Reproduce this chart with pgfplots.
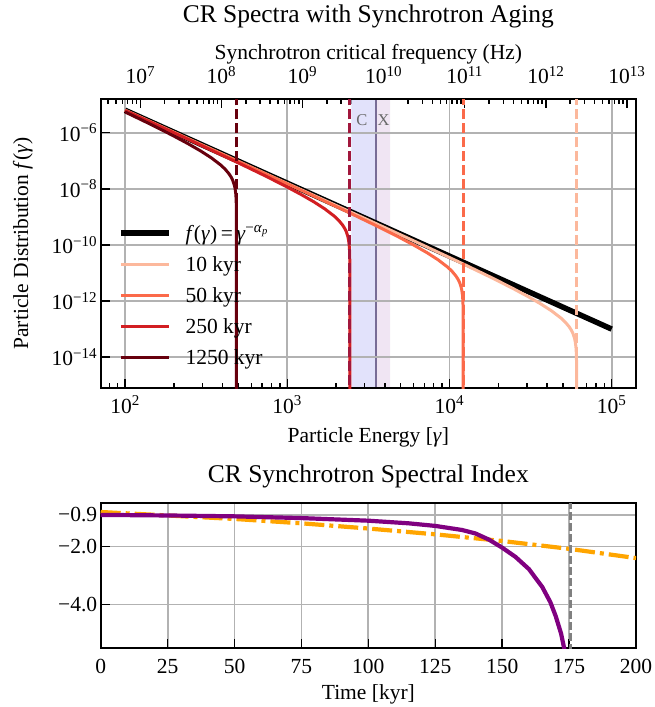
\documentclass[border=0pt]{standalone}
\usepackage{fontspec}
\setmainfont{Liberation Serif}
\usepackage{pgfplots}
\pgfplotsset{compat=1.18}
\definecolor{c10}{RGB}{252,184,156}
\definecolor{c50}{RGB}{251,106,74}
\definecolor{c250}{RGB}{210,30,34}
\definecolor{c1250}{RGB}{103,0,13}
\definecolor{gridc}{RGB}{178,178,178}
\definecolor{bandC}{RGB}{226,226,251}
\definecolor{bandX}{RGB}{240,229,243}
\definecolor{bandline}{RGB}{120,108,150}
\definecolor{labgray}{RGB}{105,105,105}
\definecolor{purp}{RGB}{128,0,128}
\definecolor{orng}{RGB}{255,165,0}
\newcommand\basefont{\fontsize{21.5}{25}\selectfont}
\newcommand\titlefont{\fontsize{25.5}{30}\selectfont}
\pgfplotsset{
  every axis/.append style={
    scale only axis, width=535.3pt,
    tick align=inside,
    major tick length=9.5pt, minor tick length=5pt,
    every tick/.append style={black, line width=1.5pt},
    axis line style={line width=2pt},
    tick label style={font=\basefont},
    label style={font=\basefont},
    title style={font=\titlefont},
  },
}
\begin{document}
\begin{tikzpicture}
\useasboundingbox (-100.7pt,-319pt) rectangle (553.3pt,388pt);
% ---------- frequency (twin) axis ----------
\begin{axis}[
  height=289pt,
  xmode=log, xmin=3.251e6, xmax=1.294e13,
  ymin=0, ymax=1,
  hide y axis,
  xtick pos=right, xticklabel pos=right,
  xtick={1e7,1e8,1e9,1e10,1e11,1e12,1e13},
  xticklabels={10\textsuperscript{7},10\textsuperscript{8},10\textsuperscript{9},10\textsuperscript{10},10\textsuperscript{11},10\textsuperscript{12},10\textsuperscript{13}},
  minor xtick={4e6,5e6,6e6,7e6,8e6,9e6,2e7,3e7,4e7,5e7,6e7,7e7,8e7,9e7,2e8,3e8,4e8,5e8,6e8,7e8,8e8,9e8,2e9,3e9,4e9,5e9,6e9,7e9,8e9,9e9,2e10,3e10,4e10,5e10,6e10,7e10,8e10,9e10,2e11,3e11,4e11,5e11,6e11,7e11,8e11,9e11,2e12,3e12,4e12,5e12,6e12,7e12,8e12,9e12},
  xticklabel style={anchor=base, yshift=15pt},
  xlabel={Synchrotron critical frequency (Hz)},
  xlabel style={at={(axis description cs:0.5,1.135)}, anchor=base},
  title={CR Spectra with Synchrotron Aging},
  title style={at={(axis description cs:0.5,1.2422)}, anchor=base, yshift=0pt},
]
\addplot[draw=none, fill=bandC] coordinates {(4e9,0) (4e9,1) (8e9,1) (8e9,0)} \closedcycle;
\addplot[draw=none, fill=bandX] coordinates {(8e9,0) (8e9,1) (1.2e10,1) (1.2e10,0)} \closedcycle;
\addplot[bandline, line width=2pt] coordinates {(8e9,0) (8e9,1)};
\node[anchor=base west, text=labgray, font=\fontsize{16.5}{20}\selectfont, inner sep=0pt] at (axis cs:4.6e9,0.91) {C};
\node[anchor=base west, text=labgray, font=\fontsize{16.5}{20}\selectfont, inner sep=0pt] at (axis cs:8.4e9,0.91) {X};
\end{axis}
% ---------- main spectrum axis ----------
\begin{axis}[
  height=289pt,
  xmode=log, ymode=log,
  xmin=70.79, xmax=141254, ymin=7.94e-16, ymax=1.585e-5,
  xtick pos=left, ytick pos=left,
  xtick={1e2,1e3,1e4,1e5},
  xticklabels={10\textsuperscript{2},10\textsuperscript{3},10\textsuperscript{4},10\textsuperscript{5}},
  minor xtick={80,90,200,300,400,500,600,700,800,900,2000,3000,4000,5000,6000,7000,8000,9000,20000,30000,40000,50000,60000,70000,80000,90000},
  ytick={1e-6,1e-8,1e-10,1e-12,1e-14},
  yticklabels={10\textsuperscript{−6},10\textsuperscript{−8},10\textsuperscript{−10},10\textsuperscript{−12},10\textsuperscript{−14}},
  xticklabel style={anchor=base, yshift=-25pt},
  grid=major, major grid style={gridc, line width=1.8pt},
  xlabel={Particle Energy [\textit{γ}]},
  xlabel style={at={(axis description cs:0.5,-0.19)}, anchor=base},
  ylabel={Particle Distribution \textit{f}(\textit{γ})},
  ylabel style={at={(axis description cs:-0.1358,0.5)}, anchor=base},
  legend cell align=left,
  legend image code/.code={\draw[#1] (0pt,0pt) -- (48pt,0pt);},
  legend style={draw=none, fill=none, font=\basefont,
    at={(axis description cs:0.032,0.571)}, anchor=north west,
    inner sep=0pt, row sep=11pt,
    nodes={inner sep=0pt, text height=17pt, text depth=3pt},
    /tikz/every odd column/.append style={column sep=14pt}},
  every axis plot/.append style={line join=round},
]
\addplot[black, line width=5.5pt] coordinates {(100,6.3096e-6) (1e5,1e-13)};
\addlegendentry{\textit{f}(\textit{γ})\,=\,\textit{γ}\textsuperscript{−\textit{α}\textsubscript{\textit{p}}}}
\addplot[c10, line width=3pt] coordinates {
(100,6.3034e-6) (3040,8.534e-10) (6080,1.3627e-10) (12160,2.0943e-11) (18240,6.736e-12)
(24320,2.9066e-12) (30400,1.4585e-12) (36480,7.9417e-13) (42560,4.4758e-13) (48640,2.4800e-13)
(51680,1.7825e-13) (54720,1.2046e-13) (56544,8.930e-14) (57760,6.9052e-14) (58976,4.8143e-14)
(59584,3.6752e-14) (60192,2.3616e-14) (60496,1.5378e-14) (60678,8.8052e-15) (60739,5.7941e-15)
(60800,1e-20)};
\addlegendentry{10 kyr}
\addplot[c50, line width=3pt] coordinates {
(100,6.2784e-6) (608,5.6039e-8) (1216,8.9481e-9) (2432,1.3751e-9) (3648,4.4232e-10)
(4864,1.9086e-10) (6080,9.5773e-11) (7296,5.2147e-11) (8512,2.9389e-11) (9728,1.6284e-11)
(10336,1.1704e-11) (10944,7.9097e-12) (11308.8,5.8639e-12) (11552,4.5341e-12) (11795.2,3.1612e-12)
(11916.8,2.4133e-12) (12038.4,1.5507e-12) (12099.2,1.0098e-12) (12135.7,5.7818e-13) (12147.8,3.8045e-13)
(12160,1e-20)};
\addlegendentry{50 kyr}
\addplot[c250, line width=3pt] coordinates {
(100,6.1526e-6) (243.2,5.8756e-7) (486.4,9.0296e-8) (729.6,2.9044e-8) (972.8,1.2532e-8)
(1216,6.2887e-9) (1459.2,3.4242e-9) (1702.4,1.9298e-9) (1945.6,1.0693e-9) (2067.2,7.6853e-10)
(2188.8,5.1938e-10) (2261.8,3.8505e-10) (2310.4,2.9772e-10) (2359.0,2.0758e-10) (2383.4,1.5846e-10)
(2407.7,1.0182e-10) (2419.8,6.6306e-11) (2427.1,3.7964e-11) (2429.6,2.4982e-11) (2432,1e-20)};
\addlegendentry{250 kyr}
\addplot[c1250, line width=3pt] coordinates {
(100,5.4954e-6) (145.92,1.9071e-6) (194.56,8.2291e-7) (243.2,4.1294e-7) (291.84,2.2484e-7)
(340.48,1.2672e-7) (389.12,7.0212e-8) (413.44,5.0464e-8) (437.76,3.4104e-8) (452.35,2.5283e-8)
(462.08,1.9550e-8) (471.81,1.3630e-8) (476.67,1.0405e-8) (481.54,6.6859e-9) (483.97,4.3539e-9)
(485.43,2.4929e-9) (485.91,1.6404e-9) (486.4,1e-20)};
\addlegendentry{1250 kyr}
% cutoff markers
\addplot[c10, line width=2.8pt, dash pattern=on 10pt off 4pt, forget plot] coordinates {(60800,1e-17) (60800,1e-3)};
\addplot[c50, line width=2.8pt, dash pattern=on 10pt off 4pt, forget plot] coordinates {(12160,1e-17) (12160,1e-3)};
\addplot[c250!85!blue!90!black, line width=2.8pt, dash pattern=on 10pt off 4pt, forget plot] coordinates {(2432,1e-17) (2432,1e-3)};
\addplot[c1250, line width=2.8pt, dash pattern=on 10pt off 4pt, forget plot] coordinates {(486.4,1e-17) (486.4,1e-3)};
\end{axis}
% ---------- spectral index axis ----------
\begin{axis}[
  at={(0pt,-260pt)}, anchor=south west,
  height=145pt,
  xmin=0, xmax=200, ymin=-5.5, ymax=-0.5,
  xtick={0,25,...,200},
  ytick={-0.9,-2,-4}, yticklabels={−0.9,−2.0,−4.0},
  xtick pos=left, ytick pos=left,
  xticklabel style={anchor=base, yshift=-25pt},
  grid=major, major grid style={gridc, line width=1.8pt},
  /pgf/number format/assume math mode=true,
  xlabel={Time [kyr]},
  xlabel style={at={(axis description cs:0.5,-0.3586)}, anchor=base},
  title={CR Synchrotron Spectral Index},
  title style={at={(axis description cs:0.5,1.1034)}, anchor=base, yshift=0pt},
]
\addplot[orng, line width=4.2pt, dash pattern=on 20pt off 5pt on 4pt off 5pt] coordinates {
(0,-0.81) (25,-0.93) (50,-1.05) (75,-1.20) (100,-1.38) (125,-1.58) (150,-1.81) (175,-2.08) (200,-2.40)};
\addplot[purp, line width=4.2pt, line join=round] coordinates {
(0,-0.91) (25,-0.93) (50,-0.96) (75,-1.02) (100,-1.11) (115,-1.20) (125,-1.29) (135,-1.43)
(140,-1.55) (145,-1.76) (150,-2.04) (155,-2.36) (160,-2.78) (165,-3.40) (168,-3.92)
(170,-4.40) (172,-5.00) (173.6,-5.7)};
\addplot[gray, line width=3pt, dash pattern=on 8pt off 3pt] coordinates {(175.6,-6) (175.6,0)};
\end{axis}
\end{tikzpicture}
\end{document}
